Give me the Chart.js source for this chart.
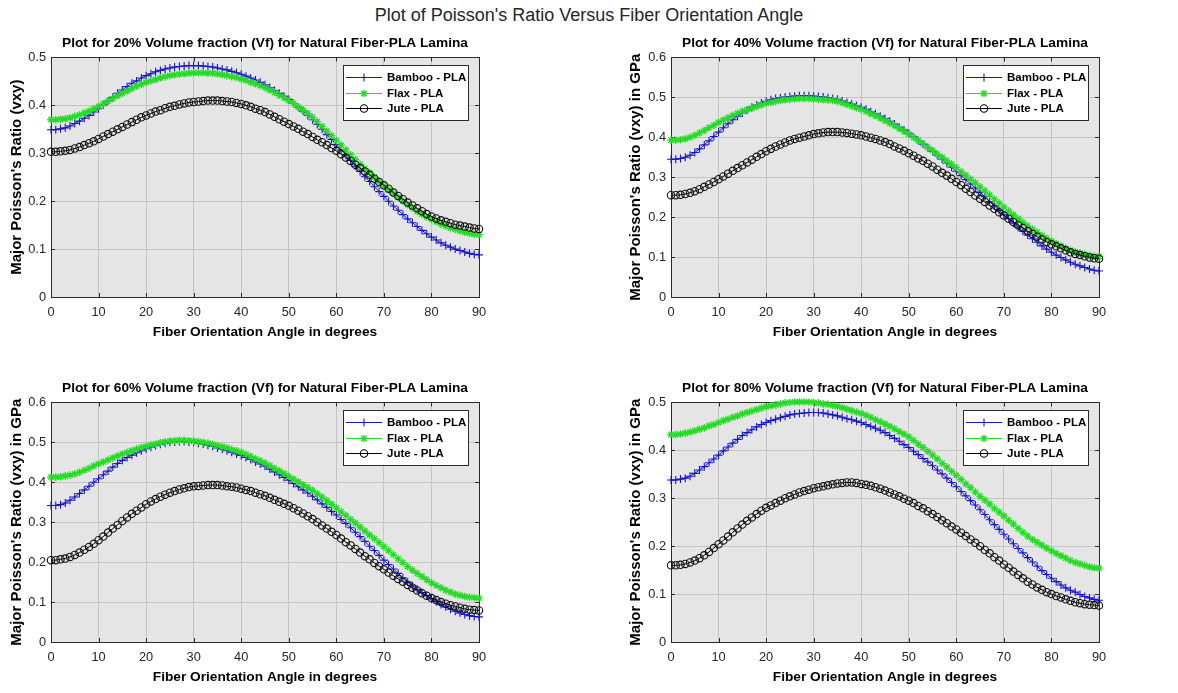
<!DOCTYPE html>
<html>
<head>
<meta charset="utf-8">
<title>Poisson's Ratio Versus Fiber Orientation Angle</title>
<script src="https://cdn.jsdelivr.net/npm/chart.js@4.4.1/dist/chart.umd.min.js"></script>
<style>
  body { margin: 0; background: #fff; width: 1178px; height: 693px; position: relative; overflow: hidden; }
  #suptitle { position: absolute; left: 0; top: 5px; width: 1178px; text-align: center;
              font: 18px "Liberation Sans", Arial, sans-serif; color: #262626; }
  canvas { position: absolute; }
</style>
</head>
<body>
<div id="suptitle">Plot of Poisson's Ratio Versus Fiber Orientation Angle</div>
<canvas id="c20" width="589" height="341" style="left:0;top:0"></canvas>
<canvas id="c40" width="589" height="341" style="left:589px;top:0"></canvas>
<canvas id="c60" width="589" height="341" style="left:0;top:345px"></canvas>
<canvas id="c80" width="589" height="341" style="left:589px;top:345px"></canvas>
<script>
// fiber angle in degrees (x)
var angles = [0,1,2,3,4,5,6,7,8,9,10,11,12,13,14,15,16,17,18,19,20,21,22,23,24,25,26,27,28,29,
  30,31,32,33,34,35,36,37,38,39,40,41,42,43,44,45,46,47,48,49,50,51,52,53,54,55,56,57,58,59,
  60,61,62,63,64,65,66,67,68,69,70,71,72,73,74,75,76,77,78,79,80,81,82,83,84,85,86,87,88,89,90];

// Vf = 20%
var bamboo20 = [0.349,0.349,0.351,0.353,0.357,0.362,0.367,0.373,0.379,0.386,
  0.393,0.401,0.409,0.417,0.425,0.432,0.439,0.446,0.451,0.457,
  0.462,0.466,0.470,0.473,0.476,0.478,0.480,0.481,0.482,0.483,
  0.483,0.483,0.482,0.481,0.480,0.478,0.476,0.474,0.471,0.468,
  0.465,0.461,0.457,0.453,0.448,0.443,0.437,0.431,0.425,0.419,
  0.412,0.404,0.396,0.388,0.379,0.370,0.360,0.350,0.339,0.329,
  0.318,0.307,0.296,0.285,0.273,0.262,0.251,0.241,0.230,0.220,
  0.210,0.200,0.190,0.181,0.172,0.163,0.155,0.147,0.139,0.132,
  0.125,0.119,0.113,0.108,0.104,0.100,0.097,0.094,0.091,0.089,
  0.088];
var flax20 = [0.370,0.370,0.371,0.372,0.374,0.377,0.380,0.384,0.388,0.393,
  0.398,0.403,0.409,0.414,0.420,0.425,0.430,0.435,0.440,0.444,
  0.448,0.451,0.454,0.457,0.460,0.462,0.464,0.465,0.466,0.467,
  0.468,0.468,0.468,0.467,0.467,0.466,0.464,0.462,0.460,0.458,
  0.455,0.452,0.448,0.445,0.441,0.437,0.432,0.427,0.421,0.416,
  0.410,0.404,0.397,0.390,0.383,0.375,0.366,0.356,0.346,0.337,
  0.327,0.317,0.307,0.297,0.287,0.277,0.268,0.259,0.250,0.241,
  0.232,0.224,0.216,0.208,0.200,0.193,0.186,0.179,0.173,0.167,
  0.162,0.157,0.152,0.148,0.144,0.141,0.138,0.135,0.133,0.131,
  0.130];
var jute20 = [0.303,0.303,0.304,0.305,0.307,0.310,0.313,0.317,0.321,0.325,
  0.330,0.335,0.340,0.345,0.350,0.355,0.360,0.365,0.370,0.375,
  0.379,0.383,0.387,0.390,0.394,0.397,0.399,0.402,0.404,0.406,
  0.407,0.408,0.409,0.410,0.410,0.410,0.409,0.408,0.407,0.405,
  0.403,0.400,0.397,0.393,0.390,0.386,0.381,0.376,0.371,0.366,
  0.361,0.356,0.351,0.345,0.340,0.334,0.328,0.323,0.317,0.311,
  0.305,0.298,0.291,0.284,0.276,0.269,0.262,0.255,0.247,0.240,
  0.233,0.226,0.218,0.211,0.204,0.197,0.191,0.185,0.179,0.173,
  0.168,0.164,0.160,0.157,0.154,0.151,0.149,0.147,0.145,0.143,
  0.142];

// Vf = 40%
var bamboo40 = [0.345,0.345,0.347,0.350,0.355,0.362,0.371,0.381,0.391,0.402,
  0.413,0.424,0.434,0.444,0.453,0.461,0.468,0.475,0.481,0.486,
  0.490,0.494,0.497,0.499,0.501,0.502,0.503,0.504,0.504,0.504,
  0.503,0.502,0.501,0.499,0.497,0.495,0.491,0.487,0.483,0.479,
  0.475,0.470,0.464,0.459,0.453,0.447,0.440,0.433,0.425,0.418,
  0.410,0.401,0.392,0.383,0.374,0.365,0.355,0.345,0.335,0.325,
  0.315,0.304,0.294,0.283,0.273,0.262,0.251,0.239,0.228,0.217,
  0.206,0.196,0.185,0.175,0.165,0.155,0.146,0.137,0.128,0.120,
  0.112,0.105,0.099,0.093,0.087,0.082,0.078,0.074,0.070,0.067,
  0.065];
var flax40 = [0.393,0.393,0.394,0.396,0.400,0.405,0.411,0.417,0.424,0.430,
  0.437,0.443,0.449,0.455,0.460,0.465,0.469,0.473,0.477,0.481,
  0.485,0.487,0.490,0.492,0.494,0.495,0.496,0.497,0.497,0.497,
  0.496,0.495,0.494,0.493,0.492,0.490,0.486,0.482,0.478,0.474,
  0.470,0.465,0.459,0.454,0.448,0.442,0.435,0.429,0.422,0.415,
  0.408,0.400,0.392,0.384,0.375,0.367,0.358,0.350,0.341,0.333,
  0.324,0.314,0.305,0.295,0.286,0.276,0.266,0.256,0.245,0.235,
  0.225,0.215,0.206,0.196,0.187,0.178,0.170,0.162,0.154,0.147,
  0.140,0.134,0.128,0.122,0.117,0.113,0.110,0.107,0.104,0.102,
  0.101];
var jute40 = [0.255,0.255,0.256,0.258,0.261,0.265,0.270,0.276,0.282,0.288,
  0.295,0.302,0.309,0.316,0.323,0.330,0.337,0.344,0.351,0.358,
  0.365,0.371,0.377,0.382,0.387,0.392,0.396,0.399,0.402,0.405,
  0.408,0.410,0.412,0.413,0.413,0.413,0.412,0.411,0.409,0.407,
  0.405,0.402,0.399,0.396,0.392,0.388,0.383,0.377,0.372,0.366,
  0.360,0.354,0.347,0.341,0.334,0.327,0.319,0.311,0.304,0.296,
  0.288,0.280,0.271,0.263,0.254,0.246,0.238,0.229,0.221,0.212,
  0.204,0.196,0.188,0.180,0.173,0.165,0.158,0.151,0.144,0.138,
  0.132,0.127,0.122,0.117,0.112,0.108,0.105,0.102,0.099,0.097,
  0.096];

// Vf = 60%
var bamboo60 = [0.342,0.342,0.344,0.348,0.355,0.363,0.372,0.381,0.390,0.400,
  0.409,0.419,0.428,0.438,0.447,0.455,0.462,0.468,0.474,0.479,
  0.484,0.488,0.492,0.495,0.498,0.500,0.501,0.502,0.502,0.501,
  0.500,0.498,0.496,0.493,0.490,0.486,0.483,0.479,0.475,0.471,
  0.467,0.462,0.457,0.451,0.446,0.440,0.433,0.426,0.419,0.412,
  0.405,0.397,0.389,0.381,0.373,0.365,0.356,0.346,0.337,0.327,
  0.318,0.307,0.297,0.286,0.275,0.264,0.252,0.240,0.229,0.217,
  0.205,0.194,0.183,0.172,0.161,0.150,0.141,0.132,0.124,0.116,
  0.108,0.101,0.094,0.088,0.082,0.077,0.073,0.069,0.066,0.064,
  0.063];
var flax60 = [0.413,0.413,0.414,0.416,0.418,0.421,0.425,0.430,0.435,0.441,
  0.446,0.451,0.456,0.461,0.466,0.471,0.475,0.479,0.483,0.487,
  0.490,0.493,0.496,0.499,0.501,0.503,0.504,0.505,0.505,0.504,
  0.503,0.502,0.500,0.498,0.495,0.492,0.489,0.486,0.482,0.479,
  0.475,0.470,0.465,0.459,0.454,0.448,0.442,0.435,0.429,0.422,
  0.415,0.408,0.401,0.394,0.387,0.380,0.371,0.363,0.354,0.345,
  0.336,0.326,0.317,0.307,0.298,0.288,0.278,0.268,0.259,0.249,
  0.239,0.229,0.219,0.209,0.199,0.189,0.180,0.172,0.164,0.156,
  0.148,0.142,0.136,0.130,0.125,0.120,0.117,0.114,0.112,0.111,
  0.110];
var jute60 = [0.205,0.205,0.207,0.209,0.213,0.218,0.224,0.231,0.238,0.246,
  0.255,0.264,0.274,0.284,0.293,0.303,0.312,0.321,0.329,0.337,
  0.345,0.352,0.358,0.364,0.369,0.374,0.378,0.382,0.385,0.388,
  0.390,0.391,0.392,0.393,0.393,0.393,0.392,0.390,0.389,0.387,
  0.384,0.381,0.378,0.374,0.370,0.366,0.361,0.356,0.351,0.346,
  0.341,0.335,0.329,0.322,0.315,0.308,0.300,0.292,0.284,0.276,
  0.268,0.259,0.250,0.242,0.233,0.224,0.215,0.207,0.198,0.190,
  0.182,0.174,0.166,0.158,0.151,0.143,0.136,0.129,0.122,0.116,
  0.110,0.105,0.100,0.096,0.092,0.089,0.086,0.083,0.081,0.080,
  0.079];

// Vf = 80%
var bamboo80 = [0.338,0.338,0.340,0.342,0.346,0.352,0.359,0.366,0.374,0.382,
  0.390,0.399,0.407,0.415,0.423,0.431,0.437,0.443,0.449,0.454,
  0.458,0.462,0.465,0.468,0.471,0.474,0.476,0.477,0.478,0.479,
  0.479,0.479,0.478,0.476,0.474,0.472,0.469,0.466,0.464,0.461,
  0.458,0.454,0.450,0.446,0.442,0.437,0.431,0.425,0.419,0.412,
  0.406,0.398,0.391,0.383,0.376,0.368,0.359,0.351,0.342,0.333,
  0.324,0.314,0.305,0.295,0.286,0.276,0.266,0.255,0.245,0.235,
  0.225,0.215,0.205,0.195,0.186,0.176,0.167,0.158,0.149,0.141,
  0.133,0.126,0.119,0.113,0.108,0.104,0.099,0.095,0.092,0.089,
  0.087];
var flax80 = [0.433,0.433,0.434,0.436,0.438,0.441,0.444,0.447,0.451,0.454,
  0.458,0.462,0.465,0.469,0.472,0.476,0.479,0.482,0.485,0.488,
  0.491,0.493,0.495,0.497,0.499,0.500,0.501,0.501,0.501,0.501,
  0.500,0.499,0.497,0.496,0.494,0.492,0.489,0.486,0.483,0.480,
  0.477,0.473,0.469,0.464,0.460,0.455,0.450,0.445,0.439,0.434,
  0.428,0.421,0.413,0.406,0.398,0.390,0.382,0.373,0.365,0.356,
  0.348,0.339,0.330,0.322,0.313,0.304,0.296,0.288,0.279,0.271,
  0.263,0.254,0.246,0.237,0.229,0.221,0.214,0.208,0.202,0.196,
  0.190,0.185,0.180,0.175,0.170,0.166,0.163,0.160,0.157,0.155,
  0.154];
var jute80 = [0.160,0.160,0.161,0.163,0.166,0.170,0.175,0.181,0.188,0.196,
  0.204,0.212,0.220,0.229,0.237,0.245,0.253,0.260,0.267,0.274,
  0.280,0.285,0.290,0.295,0.300,0.304,0.308,0.312,0.315,0.318,
  0.321,0.323,0.325,0.327,0.329,0.331,0.332,0.333,0.333,0.332,
  0.330,0.328,0.326,0.323,0.320,0.316,0.312,0.308,0.304,0.299,
  0.295,0.290,0.284,0.279,0.273,0.267,0.261,0.254,0.248,0.241,
  0.235,0.228,0.221,0.214,0.207,0.200,0.192,0.185,0.177,0.170,
  0.162,0.155,0.147,0.140,0.133,0.126,0.120,0.114,0.109,0.104,
  0.100,0.096,0.093,0.089,0.086,0.083,0.081,0.079,0.078,0.077,
  0.076];

var blue = '#1414cc';
var green = '#22dd22';
var plotBg = '#e5e5e5';
var gridColor = '#c4c4c4';
var edgeColor = '#2b2b2b';
var fontFamily = '"Liberation Sans", Arial, Helvetica, sans-serif';

Chart.defaults.font.family = fontFamily;
Chart.defaults.color = '#262626';

function drawMarker(ctx, style, x, y, r) {
	ctx.beginPath();
	if (style === 'circle') {
		ctx.arc(x, y, r, 0, Math.PI * 2);
	} else {
		ctx.moveTo(x - r, y); ctx.lineTo(x + r, y);
		ctx.moveTo(x, y - r); ctx.lineTo(x, y + r);
		if (style === 'star') {
			var d = r * 0.7071;
			ctx.moveTo(x - d, y - d); ctx.lineTo(x + d, y + d);
			ctx.moveTo(x - d, y + d); ctx.lineTo(x + d, y - d);
		}
	}
	ctx.stroke();
}

// grey axes background, box and little inward ticks like matlab
var axesBox = {
	id: 'axesBox',
	beforeDraw: function(chart) {
		var a = chart.chartArea, ctx = chart.ctx;
		ctx.save();
		ctx.fillStyle = plotBg;
		ctx.fillRect(a.left, a.top, a.right - a.left, a.bottom - a.top);
		ctx.restore();
	},
	beforeDatasetsDraw: function(chart) {
		var a = chart.chartArea, ctx = chart.ctx;
		var xs = chart.scales.x, ys = chart.scales.y;
		ctx.save();
		ctx.strokeStyle = edgeColor;
		ctx.lineWidth = 1;
		ctx.beginPath();
		xs.ticks.forEach(function(t) {
			var px = Math.round(xs.getPixelForValue(t.value)) + 0.5;
			ctx.moveTo(px, a.bottom); ctx.lineTo(px, a.bottom - 4);
			ctx.moveTo(px, a.top); ctx.lineTo(px, a.top + 4);
		});
		ys.ticks.forEach(function(t) {
			var py = Math.round(ys.getPixelForValue(t.value)) + 0.5;
			ctx.moveTo(a.left, py); ctx.lineTo(a.left + 4, py);
			ctx.moveTo(a.right, py); ctx.lineTo(a.right - 4, py);
		});
		ctx.stroke();
		ctx.strokeRect(Math.round(a.left) + 0.5, Math.round(a.top) + 0.5,
			Math.round(a.right - a.left), Math.round(a.bottom - a.top));
		ctx.restore();
	}
};

// legend box inside the top right corner of the axes
var boxLegend = {
	id: 'boxLegend',
	afterDatasetsDraw: function(chart) {
		var a = chart.chartArea, ctx = chart.ctx;
		var w = 125, h = 55;
		var x = Math.round(a.right - 11 - w), y = Math.round(a.top + 8);
		var rows = [12, 27.5, 43];
		ctx.save();
		ctx.fillStyle = '#fff';
		ctx.fillRect(x, y, w, h);
		ctx.strokeStyle = edgeColor;
		ctx.lineWidth = 1;
		ctx.strokeRect(x + 0.5, y + 0.5, w, h);
		chart.data.datasets.forEach(function(ds, i) {
			var cy = Math.round(y + rows[i]) + 0.5;
			ctx.strokeStyle = ds.borderColor;
			ctx.lineWidth = 1;
			ctx.beginPath();
			ctx.moveTo(x + 3, cy); ctx.lineTo(x + 39, cy);
			ctx.stroke();
			ctx.lineWidth = ds.pointBorderWidth;
			drawMarker(ctx, ds.pointStyle, x + 21, cy, ds.pointRadius);
			ctx.fillStyle = '#000';
			ctx.font = 'bold 11.5px ' + fontFamily;
			ctx.textBaseline = 'middle';
			ctx.textAlign = 'left';
			ctx.fillText(ds.label, x + 44, cy);
		});
		ctx.restore();
	}
};

function makeChart(id, titleText, yTitle, yMax, bamboo, flax, jute, side) {
	var left = side === 'left';
	return new Chart(document.getElementById(id), {
		type: 'line',
		data: {
			labels: angles,
			datasets: [
				{ label: 'Bamboo - PLA', data: bamboo, borderColor: blue, borderWidth: 1,
				  pointStyle: 'cross', pointRadius: 4, pointBorderColor: blue, pointBorderWidth: 1.1,
				  fill: false, clip: false, order: 3 },
				{ label: 'Flax - PLA', data: flax, borderColor: green, borderWidth: 1,
				  pointStyle: 'star', pointRadius: 3.8, pointBorderColor: green, pointBorderWidth: 1.3,
				  fill: false, clip: false, order: 2 },
				{ label: 'Jute - PLA', data: jute, borderColor: '#000', borderWidth: 1,
				  pointStyle: 'circle', pointRadius: 3.7, pointBorderColor: '#111', pointBorderWidth: 1.1,
				  pointBackgroundColor: 'rgba(0,0,0,0)', fill: false, clip: false, order: 1 }
			]
		},
		options: {
			responsive: false,
			animation: false,
			events: [],
			layout: { padding: { left: left ? 6 : 36, right: left ? 110 : 79, top: 30, bottom: 0 } },
			plugins: {
				legend: { display: false },
				tooltip: { enabled: false },
				title: { display: true, fullSize: false, text: titleText, color: '#000',
					font: { size: 13.7, weight: 'bold' }, padding: { top: 5, bottom: 6 } }
			},
			scales: {
				x: {
					type: 'linear', min: 0, max: 90,
					ticks: { stepSize: 10, padding: 8, maxRotation: 0, color: '#262626', font: { size: 12.8 } },
					grid: { color: gridColor, drawTicks: false },
					border: { display: false },
					title: { display: true, text: 'Fiber Orientation Angle in degrees', color: '#000',
						font: { size: 13.7, weight: 'bold' }, padding: { top: 0, bottom: 1 } },
					afterFit: function(s) { s.height = 44; }
				},
				y: {
					min: 0, max: yMax,
					ticks: { stepSize: 0.1, padding: 5, color: '#262626', font: { size: 12.8 } },
					grid: { color: gridColor, drawTicks: false },
					border: { display: false },
					title: { display: true, text: yTitle, color: '#000',
						font: { size: 15, weight: 'bold' }, padding: { top: 2, bottom: 0 } },
					afterFit: function(s) { s.width = left ? 45 : 46; }
				}
			}
		},
		plugins: [axesBox, boxLegend]
	});
}

makeChart('c20', 'Plot for 20% Volume fraction (Vf) for Natural Fiber-PLA Lamina',
	"Major Poisson's Ratio (vxy)", 0.5, bamboo20, flax20, jute20, 'left');
makeChart('c40', 'Plot for 40% Volume fraction (Vf) for Natural Fiber-PLA Lamina',
	"Major Poisson's Ratio (vxy) in GPa", 0.6, bamboo40, flax40, jute40, 'right');
makeChart('c60', 'Plot for 60% Volume fraction (Vf) for Natural Fiber-PLA Lamina',
	"Major Poisson's Ratio (vxy) in GPa", 0.6, bamboo60, flax60, jute60, 'left');
makeChart('c80', 'Plot for 80% Volume fraction (Vf) for Natural Fiber-PLA Lamina',
	"Major Poisson's Ratio (vxy) in GPa", 0.5, bamboo80, flax80, jute80, 'right');
</script>
</body>
</html>
